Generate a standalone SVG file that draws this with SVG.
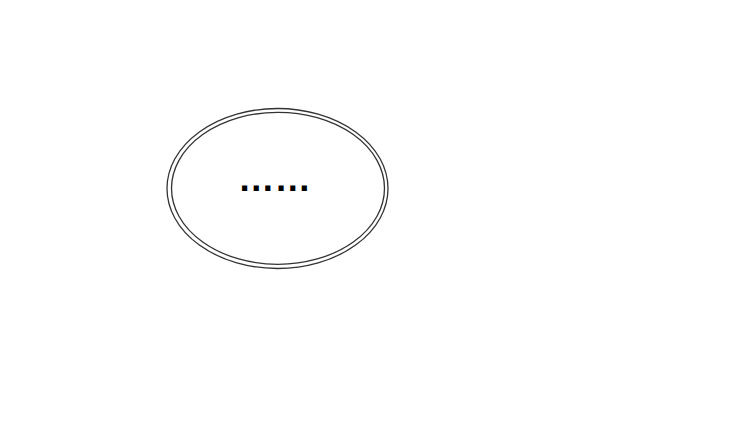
<svg xmlns="http://www.w3.org/2000/svg" width="750" height="435" viewBox="0 0 750 435">
<style>
.ring{fill:none;stroke:#333;stroke-width:1.3}
.lbl{font-family:"Liberation Sans",Arial,sans-serif;font-size:36.5px;font-weight:bold;fill:#000}
</style>
<rect width="750" height="435" fill="#fff"/>
<g id="node1">
<ellipse class="ring" cx="277.5" cy="188.5" rx="110.5" ry="80"/>
<ellipse class="ring" cx="278" cy="188.3" rx="106.5" ry="76"/>
<text class="lbl" x="238" y="190.5">……</text>
</g>
<g id="connectors"></g>
</svg>
